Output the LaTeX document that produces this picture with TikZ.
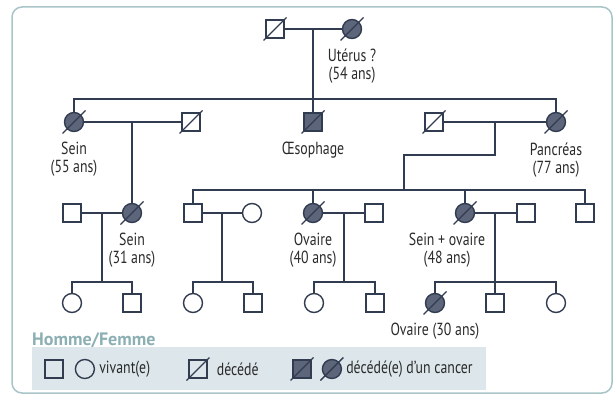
\documentclass[tikz,border=0pt]{standalone}
\usepackage{fontspec}
\setmainfont{PT Sans}[FakeStretch=0.79]
\newfontfamily\titrefont{PT Sans}
\usetikzlibrary{positioning}

\definecolor{trait}{HTML}{323C50}
\definecolor{malade}{HTML}{5C6579}
\definecolor{cadre}{HTML}{A8C4C8}
\definecolor{fondleg}{HTML}{DDE7EB}
\definecolor{titreleg}{HTML}{8CAFB4}
\definecolor{texte}{HTML}{2A2A2A}

% barre oblique des personnes decedees
\newcommand\barrer[1]{\draw[barre] ([shift={(-11.5,11.5)}]#1.center) -- ([shift={(11.5,-11.5)}]#1.center);}

\begin{document}
\begin{tikzpicture}[x=1pt,y=-1pt,
    homme/.style={rectangle, draw=trait, line width=1.4pt, minimum size=18pt, inner sep=0pt},
    femme/.style={circle, draw=trait, line width=1.4pt, minimum size=19pt, inner sep=0pt},
    atteint/.style={fill=malade},
    lien/.style={draw=trait, line width=1.6pt},
    barre/.style={draw=trait, line width=1.4pt},
    info/.style={font=\fontsize{17.5}{18}\selectfont, text=texte, align=center, inner sep=1pt},
    every label/.style={info}, label distance=9pt]

    \useasboundingbox (0,0) rectangle (616,396);
    \draw[cadre, line width=1.5pt, rounded corners=10pt] (12,7) rectangle (612,393);

    % generation 1
    \node[homme] (pere) at (275,29) {};
    \node[femme, atteint, label=below:{Utérus ?\\(54 ans)}] (mere) at (352,29) {};
    \barrer{pere} \barrer{mere}
    \coordinate (c0) at (313,29);
    \coordinate (fratrie1) at (313,99);

    % generation 2
    \node[femme, atteint, label=below:{Sein\\(55 ans)}] (sA) at (74,122) {};
    \node[homme] (sAm) at (191,122) {};
    \node[homme, atteint, label=below:{Œsophage}] (sB) at (313,122) {};
    \node[homme] (sCm) at (434,122) {};
    \node[femme, atteint, label=below:{Pancréas\\(77 ans)}] (sC) at (556,122) {};
    \barrer{sA} \barrer{sAm} \barrer{sB} \barrer{sCm} \barrer{sC}

    \draw[lien] (pere) -- (mere);
    \draw[lien] (c0) -- (sB.north);
    \draw[lien] (sA.north) |- (fratrie1) -| (sC.north);

    \coordinate (c1) at (132,122);
    \coordinate (c2) at (495,122);
    \coordinate (coude) at (404,155);
    \coordinate (fratrie2) at (404,190);
    \draw[lien] (sA) -- (sAm);
    \draw[lien] (sCm) -- (sC);
    \draw[lien] (c2) |- (coude) -- (fratrie2);

    % generation 3
    \node[homme] (d1m) at (72,213) {};
    \node[femme, atteint, label=below:{Sein\\(31 ans)}] (d1) at (132,213) {};
    \node[homme] (e) at (193,213) {};
    \node[femme] (ew) at (252,213) {};
    \node[femme, atteint, label=below:{Ovaire\\(40 ans)}] (f) at (313,213) {};
    \node[homme] (fm) at (374,213) {};
    \node[femme, atteint, label={[xshift=-18pt]below:{Sein + ovaire\\(48 ans)}}] (g) at (465,213) {};
    \node[homme] (gm) at (526,213) {};
    \node[homme] (h) at (585,213) {};
    \barrer{d1} \barrer{f} \barrer{g}

    \draw[lien] (c1) -- (d1.north);
    \draw[lien] (e.north) |- (fratrie2) -| (h.north);
    \draw[lien] (f.north) -- (f |- fratrie2);
    \draw[lien] (g.north) -- (g |- fratrie2);

    \draw[lien] (d1m) -- (d1);
    \draw[lien] (e) -- (ew);
    \draw[lien] (f) -- (fm);
    \draw[lien] (g) -- (gm);

    % generation 4
    \node[femme] (k1) at (72,303) {};
    \node[homme] (k2) at (132,303) {};
    \node[femme] (k3) at (193,303) {};
    \node[homme] (k4) at (253,303) {};
    \node[femme] (k5) at (314,303) {};
    \node[homme] (k6) at (375,303) {};
    \node[femme, atteint, label=below:{Ovaire (30 ans)}] (k7) at (435,303) {};
    \node[homme] (k8) at (495,303) {};
    \node[femme] (k9) at (556,303) {};
    \barrer{k7}

    \coordinate (c3) at (102,213); \coordinate (b3) at (102,282);
    \coordinate (c4) at (222,213); \coordinate (b4) at (222,282);
    \coordinate (c5) at (344,213); \coordinate (b5) at (344,282);
    \coordinate (c6) at (495,213); \coordinate (b6) at (495,282);
    \draw[lien] (c3) -- (b3);
    \draw[lien] (k1.north) |- (b3) -| (k2.north);
    \draw[lien] (c4) -- (b4);
    \draw[lien] (k3.north) |- (b4) -| (k4.north);
    \draw[lien] (c5) -- (b5);
    \draw[lien] (k5.north) |- (b5) -| (k6.north);
    \draw[lien] (c6) -- (k8.north);
    \draw[lien] (k7.north) |- (b6) -| (k9.north);

    % legende
    \node[font=\titrefont\bfseries\fontsize{18}{20}\selectfont, text=titreleg, anchor=west, inner sep=0pt] (titre) at (32,340) {Homme/Femme};
    \node[fill=fondleg, minimum width=454pt, minimum height=43pt, anchor=north west, inner sep=0pt] (boite) at (32,347) {};
    \node[homme] (l1) at (54,369) {};
    \node[femme, right=11pt of l1] (l2) {};
    \node[info, right=3pt of l2] (t1) {vivant(e)};
    \node[homme] (l3) at (198,369) {};
    \node[info, right=8pt of l3] (t2) {décédé};
    \node[homme, atteint] (l4) at (302,369) {};
    \node[femme, atteint, right=10pt of l4] (l5) {};
    \node[info, right=3pt of l5] (t3) {décédé(e) d’un cancer};
    \barrer{l3} \barrer{l4} \barrer{l5}

\end{tikzpicture}
\end{document}
